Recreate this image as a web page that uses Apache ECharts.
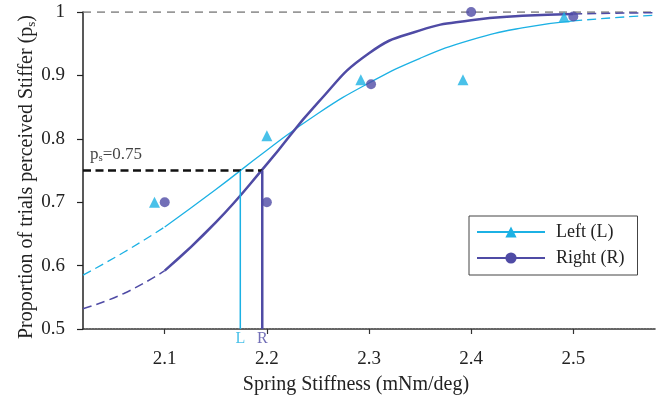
<!DOCTYPE html>
<html><head><meta charset="utf-8">
<script src="https://cdn.jsdelivr.net/npm/echarts@6/dist/echarts.min.js"></script>
<style>html,body{margin:0;padding:0;background:#fff}#c{width:662px;height:399px}</style>
</head><body><div id="c"></div>
<script>
// ---- data ----
const xTicks = [2.1, 2.2, 2.3, 2.4, 2.5];
const leftPtsX = [2.09, 2.2, 2.292, 2.392, 2.491];
const leftPtsY = [0.70, 0.805, 0.893, 0.893, 0.992];
const rightPtsX = [2.1, 2.2, 2.302, 2.4, 2.5];
const rightPtsY = [0.70, 0.70, 0.886, 1.0, 0.993];
// fitted curves (solid part)
const fitX = [2.10, 2.15, 2.20, 2.25, 2.30, 2.35, 2.40, 2.45, 2.50];
const leftFitY = [0.661, 0.720, 0.782, 0.840, 0.888, 0.927, 0.956, 0.975, 0.986];
const rightFitY = [0.592, 0.668, 0.760, 0.857, 0.935, 0.971, 0.987, 0.994, 0.997];
// extrapolated (dashed) parts
const lowX = [2.02, 2.06, 2.10];
const leftLowY = [0.585, 0.621, 0.661];
const rightLowY = [0.532, 0.556, 0.592];
const highX = [2.50, 2.54, 2.58];
const leftHighY = [0.986, 0.991, 0.995];
const rightHighY = [0.997, 0.998, 0.999];
// thresholds
const pThresh = 0.75;
const thrL = 2.174;
const thrR = 2.1955;
const xMin = 2.02, xMax = 2.58;

const F = "'Liberation Serif','DejaVu Serif',serif";
const CY = '#1cb1e4';
const PU = '#4f4ba5';
const zip = (xs, ys) => xs.map((x, i) => [x, ys[i]]);

const chart = echarts.init(document.getElementById('c'));
chart.setOption({
  animation: false,
  backgroundColor: '#fff',
  grid: {left: 83, right: 7, top: 12, bottom: 70},
  xAxis: {
    type: 'value', min: xMin, max: xMax,
    axisLine: {onZero: false, lineStyle: {color: '#333', width: 1.6, type: [2, 1]}},
    axisTick: {customValues: xTicks, length: 5, lineStyle: {color: '#333', width: 1.2}},
    axisLabel: {customValues: xTicks, margin: 21, fontSize: 19, fontFamily: F, color: '#222',
      formatter: v => v.toFixed(1)},
    splitLine: {show: false}
  },
  yAxis: {
    type: 'value', min: 0.5, max: 1, interval: 0.1,
    axisLine: {show: true, lineStyle: {color: '#222', width: 1.5}},
    axisTick: {show: true, length: 6, lineStyle: {color: '#222', width: 1.2}},
    axisLabel: {margin: 18, fontSize: 19, fontFamily: F, color: '#222'},
    splitLine: {show: false}
  },
  legend: {
    data: ['Left (L)', 'Right (R)'],
    orient: 'vertical', left: 469, top: 216,
    itemWidth: 68, itemHeight: 14, itemGap: 8,
    padding: [7, 13, 8, 7],
    borderColor: '#444', borderWidth: 1,
    selectedMode: false,
    textStyle: {fontSize: 18, fontFamily: F, color: '#222', padding: [0, 0, 0, 6], lineHeight: 18}
  },
  graphic: [
    {type: 'text', x: 27, y: 177, rotation: Math.PI / 2,
      style: {text: '{n|Proportion of trials perceived Stiffer (p}{s|s}{n|)}', align: 'center', verticalAlign: 'middle',
        rich: {n: {fontSize: 20, fontFamily: F, fill: '#222', lineHeight: 22},
               s: {fontSize: 13, fontFamily: F, fill: '#222', lineHeight: 8, verticalAlign: 'bottom'}}}},
    {type: 'text', x: 356, y: 385,
      style: {text: 'Spring Stiffness (mNm/deg)', align: 'center', verticalAlign: 'middle',
        fontSize: 20, fontFamily: F, fill: '#222'}}
  ],
  series: [
    {name: 'ref1', type: 'line', data: [[xMin, 1], [xMax, 1]], symbol: 'none', silent: true,
      lineStyle: {color: '#777', width: 1.5, type: [8, 6]}},
    {name: 'Left (L)', type: 'line', data: zip(fitX, leftFitY), smooth: true, symbol: 'triangle', showSymbol: false,
      lineStyle: {color: CY, width: 1.3}, itemStyle: {color: CY}},
    {name: 'leftLow', type: 'line', data: zip(lowX, leftLowY), smooth: true, symbol: 'none',
      lineStyle: {color: CY, width: 1.3, type: [9, 5]}},
    {name: 'leftHigh', type: 'line', data: zip(highX, leftHighY), smooth: true, symbol: 'none',
      lineStyle: {color: CY, width: 1.3, type: [9, 5]}},
    {name: 'Right (R)', type: 'line', data: zip(fitX, rightFitY), smooth: true, symbol: 'circle', showSymbol: false,
      lineStyle: {color: PU, width: 2.5}, itemStyle: {color: PU}},
    {name: 'rightLow', type: 'line', data: zip(lowX, rightLowY), smooth: true, symbol: 'none',
      lineStyle: {color: PU, width: 1.5, type: [9, 5]}},
    {name: 'rightHigh', type: 'line', data: zip(highX, rightHighY), smooth: true, symbol: 'none',
      lineStyle: {color: PU, width: 1.5, type: [9, 5]}},
    {name: 'thrH', type: 'line', data: [[xMin, pThresh], [thrR, pThresh]], symbol: 'none',
      lineStyle: {color: '#111', width: 2.5, type: [8, 4.5]}},
    {name: 'thrL', type: 'line', data: [[thrL, 0.5], [thrL, pThresh]], symbol: 'none',
      lineStyle: {color: CY, width: 1.5}},
    {name: 'thrR', type: 'line', data: [[thrR, 0.5], [thrR, pThresh]], symbol: 'none',
      lineStyle: {color: PU, width: 2.5}},
    {name: 'leftPts', type: 'scatter', data: zip(leftPtsX, leftPtsY), symbol: 'triangle', symbolSize: 11,
      itemStyle: {color: CY}, z: 5},
    {name: 'rightPts', type: 'scatter', data: zip(rightPtsX, rightPtsY), symbol: 'circle', symbolSize: 10,
      itemStyle: {color: PU}, z: 5},
    {name: 'labels', type: 'scatter', symbolSize: 0, silent: true,
      data: [
        {value: [thrL, 0.5], label: {show: true, position: 'bottom', distance: 2, formatter: 'L', color: CY, fontSize: 16, fontFamily: F}},
        {value: [thrR, 0.5], label: {show: true, position: 'bottom', distance: 2, formatter: 'R', color: PU, fontSize: 16, fontFamily: F}},
        {value: [xMin, pThresh], label: {show: true, position: [7, -7], align: 'left', verticalAlign: 'bottom',
          formatter: '{n|p}{s|s}{n|=0.75}',
          rich: {n: {fontSize: 17, fontFamily: F, color: '#111', lineHeight: 18},
                 s: {fontSize: 11, fontFamily: F, color: '#111', lineHeight: 6, verticalAlign: 'bottom'}}}}
      ]}
  ]
});
</script></body></html>
